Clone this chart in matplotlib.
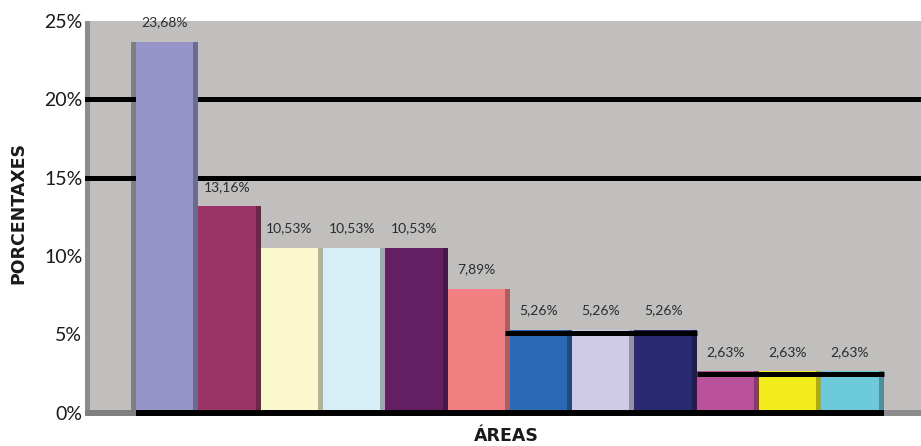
import matplotlib.pyplot as plt
import matplotlib.colors as mcolors

# data
values = [23.68, 13.16, 10.53, 10.53, 10.53, 7.89, 5.26, 5.26, 5.26, 2.63, 2.63, 2.63]
labels = ['23,68%', '13,16%', '10,53%', '10,53%', '10,53%', '7,89%',
          '5,26%', '5,26%', '5,26%', '2,63%', '2,63%', '2,63%']
colors = ['#9595c9', '#9a3366', '#fbf8cd', '#d6eef5', '#641f63', '#f28083',
          '#2a69b3', '#cfcbe6', '#2a2a70', '#b9519b', '#f3ec1c', '#6ccadb']
yticks = [0, 5, 10, 15, 20, 25]
ytick_labels = ['0%', '5%', '10%', '15%', '20%', '25%']

plt.rcParams['font.family'] = ['Lato', 'DejaVu Sans']


def darker(c, f=0.72):
    r, g, b = mcolors.to_rgb(c)
    return (r * f, g * f, b * f)


fig = plt.figure(figsize=(9.21, 4.46), dpi=100)
ax = fig.add_axes([85 / 921, 1 - 412.5 / 446, 836 / 921, 391.5 / 446])
ax.set_facecolor('#c0bfbe')
ax.set_xlim(-0.82, 12.6)
ax.set_ylim(0, 25)

front = 0.92
n = len(values)
xs = list(range(n))

# left wall strip and shadow of first bar
ax.bar(-0.82, 25, width=0.08, align='edge', color='#8c8c8c', zorder=1)
ax.bar(-0.08, values[0], width=0.08, align='edge', color='#7f7f7f', zorder=1)

# gridlines (behind bars)
for g in [15, 20]:
    ax.axhline(g, color='black', lw=3.6, zorder=2)

# bars: front face + darker side strip
ax.bar(xs, values, width=front, align='edge', color=colors, zorder=3)
ax.bar([x + front for x in xs], values, width=1 - front, align='edge',
       color=[darker(c) for c in colors], zorder=3)

# black top edges on the low groups
ax.hlines(values[6] - 0.17, 6 - 0.08, 9, color='black', lw=3.6, zorder=4)
ax.hlines(values[9] - 0.17, 9, 12, color='black', lw=3.6, zorder=4)

# base
ax.hlines(0, -0.82, 0, color='#7f7f7f', lw=4.3, zorder=4, clip_on=False)
ax.hlines(0, 0, 12, color='black', lw=4.3, zorder=4, clip_on=False)
ax.hlines(0, 12, 12.6, color='#8c8c8c', lw=4.3, zorder=4, clip_on=False)

for x, v, t in zip(xs, values, labels):
    ax.text(x + front / 2, v + 1.25, t, ha='center', va='center',
            fontsize=10, color='#2b2b2b', zorder=5)

ax.set_xticks([])
ax.set_yticks(yticks)
ax.set_yticklabels(ytick_labels, fontsize=14, color='#1a1a1a')
ax.tick_params(axis='y', length=0, pad=2)
for s in ax.spines.values():
    s.set_visible(False)

fig.text(18 / 921, 1 - 213 / 446, 'PORCENTAXES', rotation=90, ha='center',
         va='center', fontsize=12.5, fontweight='bold', color='#1a1a1a',
         family='DejaVu Sans')
fig.text(506 / 921, 1 - 436 / 446, 'ÁREAS', ha='center', va='center',
         fontsize=12.5, fontweight='bold', color='#1a1a1a',
         family='DejaVu Sans')

fig.savefig('out.png', dpi=100)
